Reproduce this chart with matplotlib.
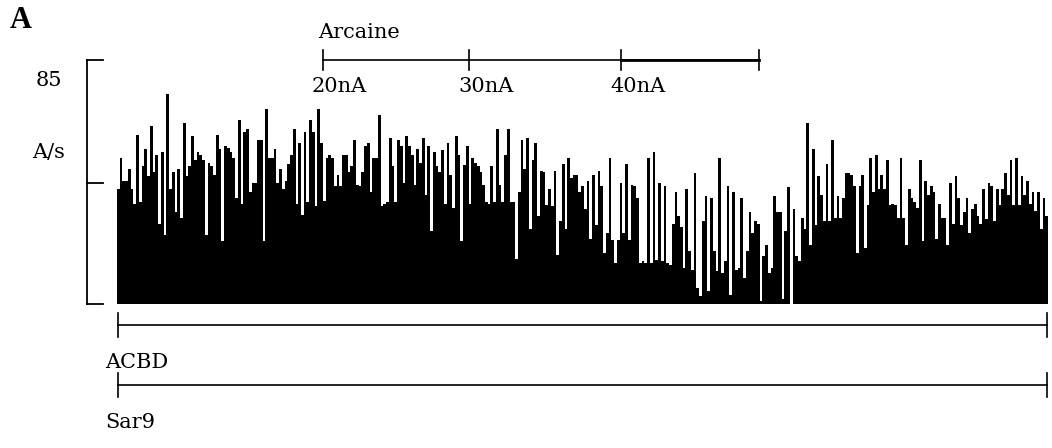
import matplotlib
matplotlib.use("Agg")
import matplotlib.pyplot as plt
import numpy as np

# firing rate (A/s) per time bin left to right
rate_seg1 = [40, 51, 43, 43, 47, 40, 35, 59, 35.5, 48, 54, 44.5, 62, 46, 52, 28, 53, 24, 73, 40,
             46, 32, 47, 30, 63, 44.5, 48, 58.5, 50, 53, 52, 50, 24, 49, 48, 45, 59, 54, 22, 55,
             54.5, 53, 51, 37, 64, 35, 60, 61, 39, 42, 42, 57, 57, 22, 68]
rate_seg2 = [51, 51, 54, 42, 47, 40, 43, 48.6, 52, 61, 35, 56, 31, 60, 35.5, 64, 60, 34, 68, 56,
             36, 51, 52, 51, 41, 45, 41, 52, 52, 46, 48, 57, 41.5, 41, 46, 55, 56, 39, 51, 51,
             66, 34, 35, 35.5, 58, 48, 35.5, 57, 55, 42, 58.5, 55, 52, 41.5]
rate_seg3 = [54, 49, 58, 38, 55, 25.4, 53, 48, 46, 53.5, 35, 56, 45, 33.5, 58.5, 52, 22, 48.5, 55, 35,
             51, 49, 48, 46, 41.5, 35.5, 35, 48, 35.5, 61, 41.5, 35.5, 52, 61, 35.5, 35.5, 15.8, 39, 57, 47,
             58, 26, 50, 56, 30.7, 46.5, 46, 34.5, 40, 34, 46.5, 17, 29, 48.6, 26, 51, 44, 45]
rate_seg4 = [45, 39, 41, 33, 43, 22.7, 45, 27.5, 46.5, 41, 17.7, 24.6, 51, 22.4, 14.3, 22.4, 42, 24.6, 48.6, 22.4,
             41.5, 41, 37, 14.3, 15, 14.3, 51, 14.3, 53, 15.5, 42, 15, 41, 14.3, 13.7, 28, 39, 30.7, 26.7, 12.6,
             40, 18.4, 12, 45.7, 5.6, 2.7, 29, 37.7, 4.5, 37, 18.4, 11.4, 51, 10.8, 15, 41]
rate_seg5 = [3.2, 39, 12, 12.6, 37, 9, 18.4, 32, 24.6, 29, 28, 1, 16.7, 20.7, 10.8, 12.6, 37.7, 32, 32, 1.7,
             25.5, 40.6, 0, 33, 16.7, 15, 30, 26, 63, 20.7, 54, 27.5, 44.6, 38, 29, 48.6, 29, 57, 30, 37.7,
             30, 37, 45.7, 45.7, 45, 41, 17.7, 41, 45, 19.5, 34.5, 51, 39, 52, 40, 45, 40, 50, 34.5]
rate_seg6 = [35, 34.5, 30, 51, 30, 20.7, 40, 37, 35.5, 33.5, 50, 22, 43, 38, 41, 39, 22.7, 35, 30, 30,
             20.7, 42, 28, 44.6, 37, 27.5, 32, 37, 24.6, 33, 35, 30.7, 28, 40, 29.5, 42, 41, 29, 40, 34.5,
             40, 45.7, 38, 50, 34.5, 51, 34.5, 44.6, 38, 43, 35, 39, 32.5, 39, 26, 37, 30.7]
rates = np.array(rate_seg1 + rate_seg2 + rate_seg3 + rate_seg4 + rate_seg5 + rate_seg6)

y_max = 85
y_label = "A/s"
arcaine_doses = ["20nA", "30nA", "40nA"]
drug_bars = ["ACBD", "Sar9"]

W, H = 1052, 448
serif = "DejaVu Serif"

fig = plt.figure(figsize=(W / 100, H / 100), dpi=100)
fig.patch.set_facecolor("white")


def fx(x):
    return x / W


def fy(y):
    return 1 - y / H


def fline(x0, y0, x1, y1, lw=1.3):
    fig.add_artist(plt.Line2D([fx(x0), fx(x1)], [fy(y0), fy(y1)],
                              transform=fig.transFigure, color="black", lw=lw))


ax = fig.add_axes([fx(117), fy(304), fx(1048) - fx(117), fy(60) - fy(304)])
idx = np.arange(len(rates))
ax.bar(idx, rates, width=1.0, color="black", linewidth=0)
ax.set_xlim(-0.5, len(rates) - 0.5)
ax.set_ylim(0, y_max)
ax.axis("off")

# y scale bracket
fline(87, 60, 87, 304)
fline(87, 60, 103, 60)
fline(87, 183, 103, 183)
fline(87, 304, 103, 304)
fig.text(fx(49), fy(80), str(y_max), family=serif, fontsize=15, ha="center", va="center")
fig.text(fx(49), fy(152), y_label, family=serif, fontsize=15, ha="center", va="center")
fig.text(fx(10), fy(20), "A", family="Liberation Serif", fontsize=22, fontweight="bold",
         ha="left", va="center")

# arcaine application bar
ticks = [323, 469, 621, 759]
fline(ticks[0], 60, ticks[-1], 60, lw=1.2)
for t in ticks:
    fline(t, 50, t, 70, lw=1.2)
fline(621, 60, 759, 60, lw=2.0)
fig.text(fx(318), fy(33), "Arcaine", family=serif, fontsize=15, ha="left", va="center")
for t, lab in zip(ticks[:3], arcaine_doses):
    fig.text(fx(t - 11), fy(86), lab, family=serif, fontsize=15, ha="left", va="center")

# drug application bars
for y_line, lab in zip([325, 385], drug_bars):
    fline(118, y_line, 1047, y_line, lw=1.2)
    fline(118, y_line - 12, 118, y_line + 12, lw=1.2)
    fline(1047, y_line - 12, 1047, y_line + 12, lw=1.2)
    fig.text(fx(105), fy(y_line + 37), lab, family=serif, fontsize=15, ha="left", va="center")

fig.savefig("out.png", dpi=100, facecolor="white")
